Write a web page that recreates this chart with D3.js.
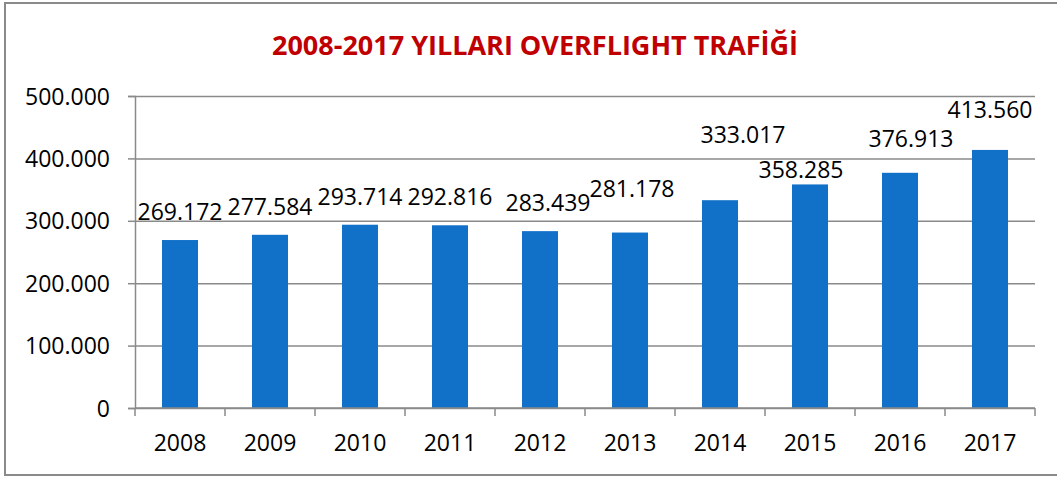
<!DOCTYPE html>
<html>
<head>
<meta charset="utf-8">
<script src="https://cdn.jsdelivr.net/npm/d3@7"></script>
<style>
	body { margin: 0; background: #fff; }
	text { font-family: "Open Sans", sans-serif; fill: #000; }
</style>
</head>
<body>
<div id="chart"></div>
<script>
/////////////////////////////////////////////////////////////////////////////
// Data
const years = ["2008", "2009", "2010", "2011", "2012",
							 "2013", "2014", "2015", "2016", "2017"];
const flights = [269172, 277584, 293714, 292816, 283439,
								 281178, 333017, 358285, 376913, 413560];
const yTicks = [0, 100000, 200000, 300000, 400000, 500000];

// Hand-moved data labels in the original: [dx, dy] nudges from default spot
const labelNudge = [[0, 0], [0, 0], [0, 0], [0, 0], [8, 0],
										[2, -16], [23, -37], [-9, 14], [11, -6], [0, -12]];

/////////////////////////////////////////////////////////////////////////////
// Set up
const width = 1057,
			height = 477;

const margin = { top: 96, right: 22, bottom: 69, left: 135 };

const fmt = d => d3.format(",")(d).replace(/,/g, ".");

const svg = d3.select("#chart")
	.append("svg")
		.attr("width", width)
		.attr("height", height);

// Outer frame
svg.append("rect")
		.attr("x", 5)
		.attr("y", 3)
		.attr("width", width + 10)
		.attr("height", 472)
		.attr("fill", "none")
		.attr("stroke", "#8a8a8a")
		.attr("stroke-width", 2);

// Title
svg.append("text")
		.attr("x", 535)
		.attr("y", 55)
		.attr("text-anchor", "middle")
		.style("font-size", "27px")
		.style("font-weight", "bold")
		.style("fill", "#c00000")
		.text("2008-2017 YILLARI OVERFLIGHT TRAFİĞİ");

/////////////////////////////////////////////////////////////////////////////
// Scales
const x = d3.scaleBand()
		.domain(years)
		.range([margin.left, width - margin.right])
		.paddingInner(0.6)
		.paddingOuter(0.3);

const y = d3.scaleLinear()
		.domain([0, 500000])
		.range([height - margin.bottom, margin.top]);

const x0 = margin.left,
			x1 = width - margin.right,
			y0 = y(0);

/////////////////////////////////////////////////////////////////////////////
// Grid + y axis
const yAxis = svg.append("g")
		.attr("transform", `translate(${x0}, 0)`)
		.call(d3.axisLeft(y)
				.tickValues(yTicks)
				.tickSize(7)
				.tickPadding(18)
				.tickFormat(fmt));

yAxis.select(".domain")
		.attr("stroke", "#8a8a8a")
		.attr("stroke-width", 1.5);

yAxis.selectAll(".tick line")
		.attr("stroke", "#8a8a8a")
		.attr("stroke-width", 1.5);

yAxis.selectAll(".tick")
	.append("line")
		.attr("x1", 0)
		.attr("x2", x1 - x0)
		.attr("stroke", "#8a8a8a")
		.attr("stroke-width", 1.5);

yAxis.selectAll("text")
		.style("font-size", "23px")
		.attr("dy", "0.35em");

/////////////////////////////////////////////////////////////////////////////
// Bars
svg.append("g")
	.selectAll("rect")
	.data(flights)
	.enter()
	.append("rect")
		.attr("x", (d, i) => x(years[i]))
		.attr("y", d => y(d))
		.attr("width", x.bandwidth())
		.attr("height", d => y0 - y(d))
		.attr("fill", "#1170c8");

/////////////////////////////////////////////////////////////////////////////
// X axis (ticks between categories)
const bounds = d3.range(years.length + 1).map(i => x0 + i * x.step());

svg.append("line")
		.attr("x1", x0)
		.attr("x2", x1)
		.attr("y1", y0)
		.attr("y2", y0)
		.attr("stroke", "#8a8a8a")
		.attr("stroke-width", 1.5);

svg.append("g")
	.selectAll("line")
	.data(bounds)
	.enter()
	.append("line")
		.attr("x1", d => d)
		.attr("x2", d => d)
		.attr("y1", y0)
		.attr("y2", y0 + 8)
		.attr("stroke", "#8a8a8a")
		.attr("stroke-width", 1.5);

svg.append("g")
	.selectAll("text")
	.data(years)
	.enter()
	.append("text")
		.attr("x", d => x(d) + x.bandwidth() / 2)
		.attr("y", y0 + 43)
		.attr("text-anchor", "middle")
		.style("font-size", "23px")
		.text(d => d);

/////////////////////////////////////////////////////////////////////////////
// Data labels
svg.append("g")
	.selectAll("text")
	.data(flights)
	.enter()
	.append("text")
		.attr("x", (d, i) => x(years[i]) + x.bandwidth() / 2 + labelNudge[i][0])
		.attr("y", (d, i) => y(d) - 20 + labelNudge[i][1])
		.attr("text-anchor", "middle")
		.style("font-size", "23px")
		.text(fmt);
</script>
</body>
</html>
